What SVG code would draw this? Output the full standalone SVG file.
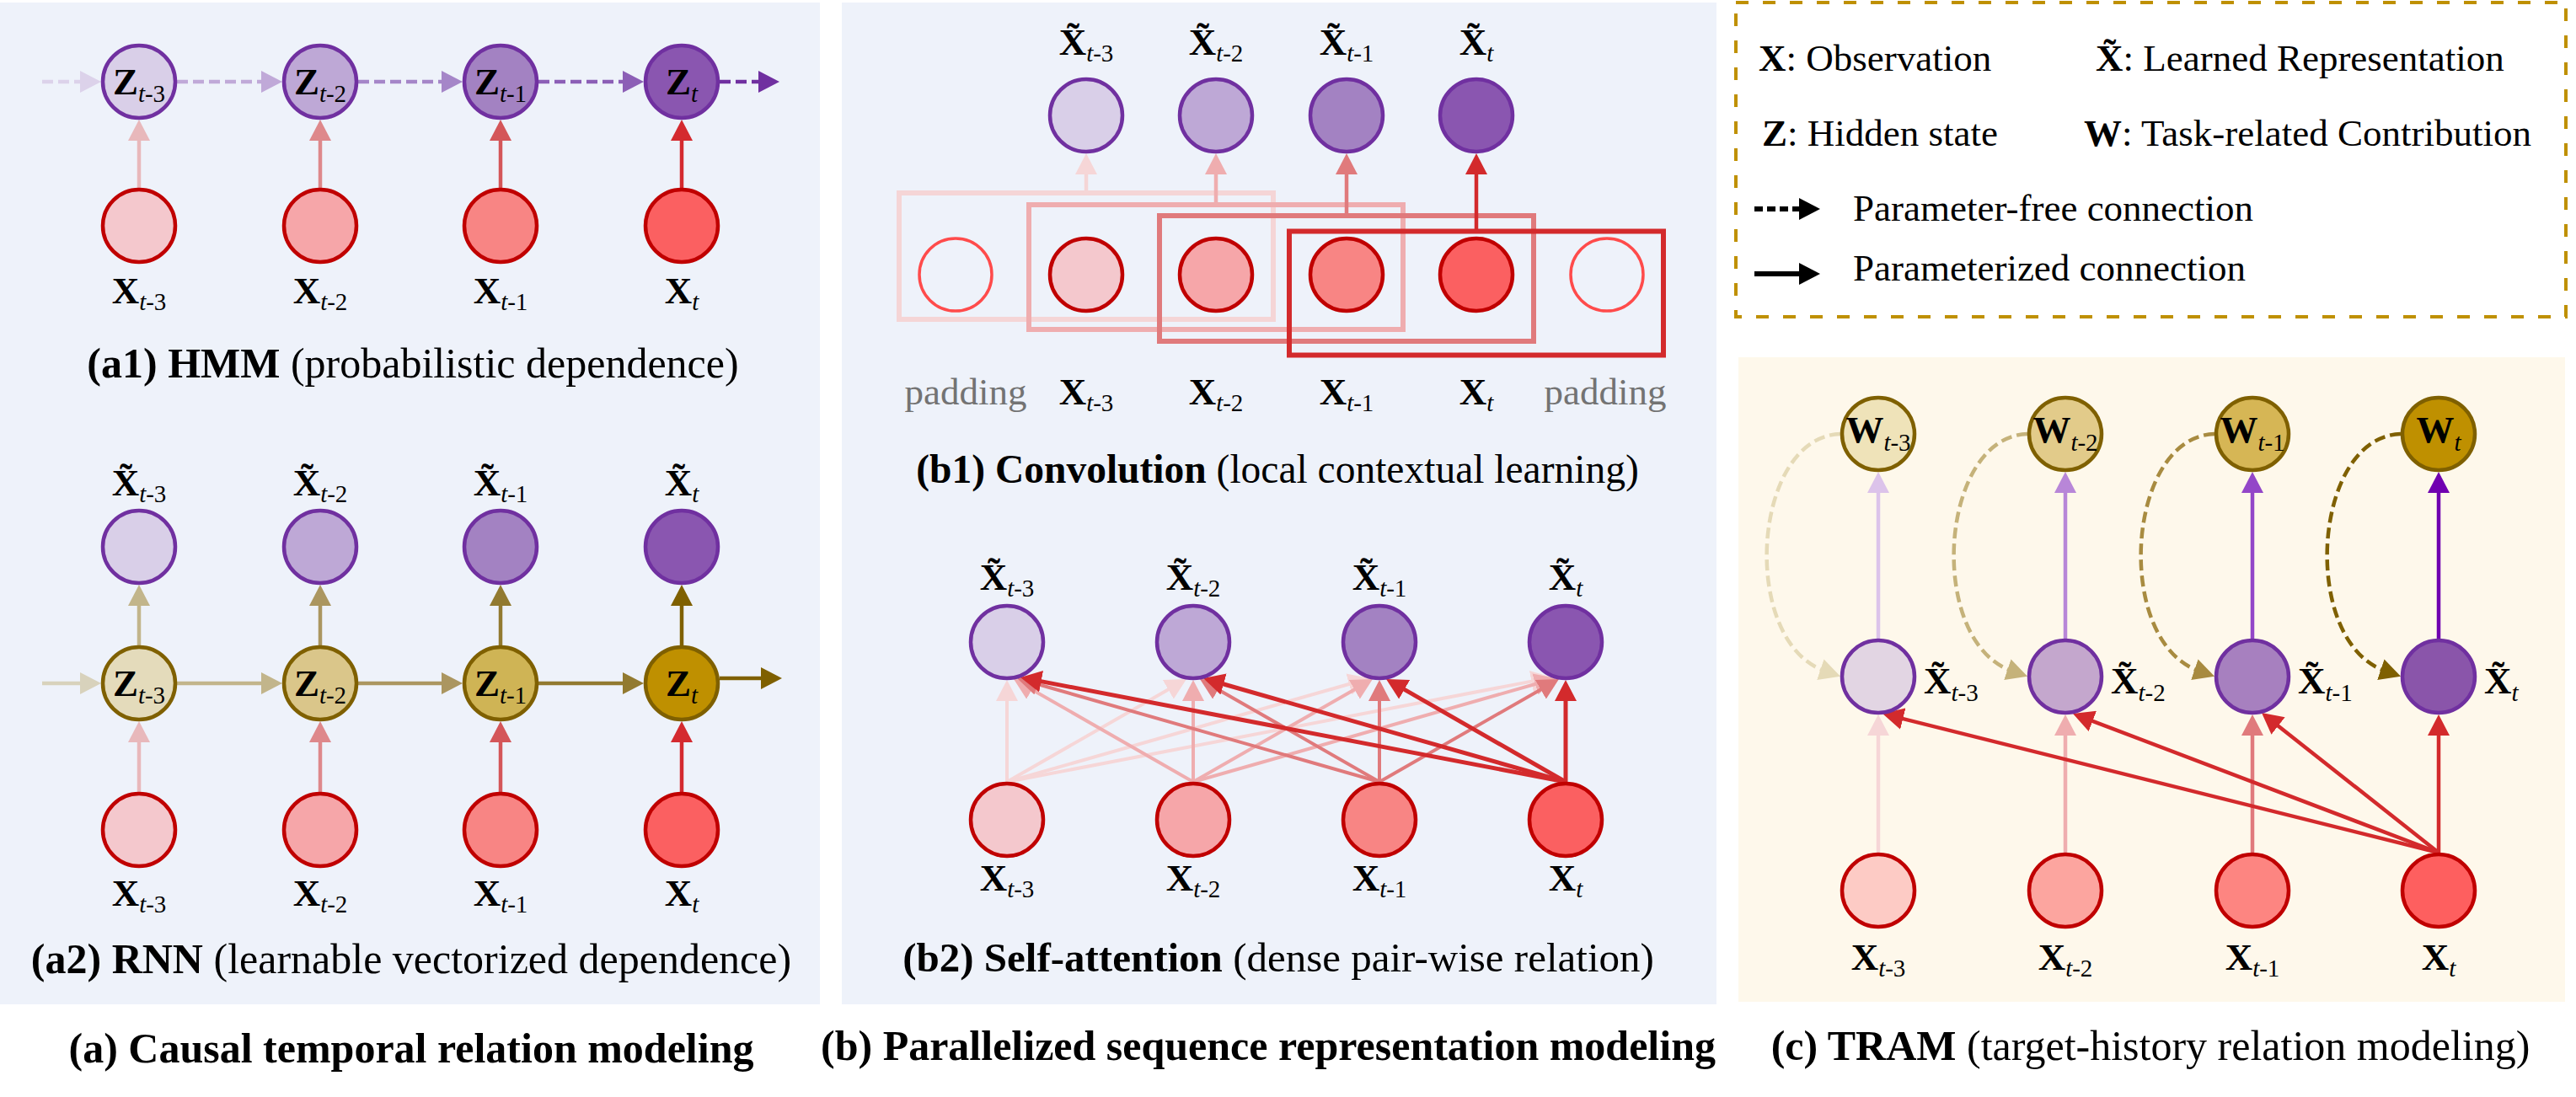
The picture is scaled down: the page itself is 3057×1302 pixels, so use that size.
<svg xmlns="http://www.w3.org/2000/svg" width="3057" height="1302" viewBox="0 0 3057 1302">
<defs>
<style>
text{font-family:"Liberation Serif","Times New Roman",serif;fill:#000}
.lbl{font-size:45px;font-weight:bold}
.sub{font-size:29px;font-weight:normal}
.it{font-style:italic}
.cap{font-size:50px}
.b{font-weight:bold}
.leg{font-size:45px}
.pad{font-size:45px;fill:#737373}
.n{stroke-width:4.5}
.zp{stroke:#7030a0}
.xr{stroke:#c00000}
.zt{stroke:#7f6000}
.c{fill:none;stroke-width:4.5}
.d{stroke-dasharray:13 6}
.box{fill:none;stroke-width:6}
</style>
<marker id="ap0" viewBox="0 0 25 26" refX="7" refY="13" markerWidth="25" markerHeight="26" markerUnits="userSpaceOnUse" orient="auto"><path d="M0,0L25,13L0,26z" fill="#dcd2ea"/></marker>
<marker id="ap1" viewBox="0 0 25 26" refX="7" refY="13" markerWidth="25" markerHeight="26" markerUnits="userSpaceOnUse" orient="auto"><path d="M0,0L25,13L0,26z" fill="#c0a9d8"/></marker>
<marker id="ap2" viewBox="0 0 25 26" refX="7" refY="13" markerWidth="25" markerHeight="26" markerUnits="userSpaceOnUse" orient="auto"><path d="M0,0L25,13L0,26z" fill="#a586c8"/></marker>
<marker id="ap3" viewBox="0 0 25 26" refX="7" refY="13" markerWidth="25" markerHeight="26" markerUnits="userSpaceOnUse" orient="auto"><path d="M0,0L25,13L0,26z" fill="#8c5fb6"/></marker>
<marker id="ap4" viewBox="0 0 25 26" refX="7" refY="13" markerWidth="25" markerHeight="26" markerUnits="userSpaceOnUse" orient="auto"><path d="M0,0L25,13L0,26z" fill="#7030a0"/></marker>
<marker id="ar0" viewBox="0 0 25 26" refX="7" refY="13" markerWidth="25" markerHeight="26" markerUnits="userSpaceOnUse" orient="auto"><path d="M0,0L25,13L0,26z" fill="#e8b8bb"/></marker>
<marker id="ar1" viewBox="0 0 25 26" refX="7" refY="13" markerWidth="25" markerHeight="26" markerUnits="userSpaceOnUse" orient="auto"><path d="M0,0L25,13L0,26z" fill="#de888b"/></marker>
<marker id="ar2" viewBox="0 0 25 26" refX="7" refY="13" markerWidth="25" markerHeight="26" markerUnits="userSpaceOnUse" orient="auto"><path d="M0,0L25,13L0,26z" fill="#d45659"/></marker>
<marker id="ar3" viewBox="0 0 25 26" refX="7" refY="13" markerWidth="25" markerHeight="26" markerUnits="userSpaceOnUse" orient="auto"><path d="M0,0L25,13L0,26z" fill="#d42a2f"/></marker>
<marker id="at0" viewBox="0 0 25 26" refX="7" refY="13" markerWidth="25" markerHeight="26" markerUnits="userSpaceOnUse" orient="auto"><path d="M0,0L25,13L0,26z" fill="#d8d2bc"/></marker>
<marker id="at1" viewBox="0 0 25 26" refX="7" refY="13" markerWidth="25" markerHeight="26" markerUnits="userSpaceOnUse" orient="auto"><path d="M0,0L25,13L0,26z" fill="#c2b58b"/></marker>
<marker id="at2" viewBox="0 0 25 26" refX="7" refY="13" markerWidth="25" markerHeight="26" markerUnits="userSpaceOnUse" orient="auto"><path d="M0,0L25,13L0,26z" fill="#ab9660"/></marker>
<marker id="at3" viewBox="0 0 25 26" refX="7" refY="13" markerWidth="25" markerHeight="26" markerUnits="userSpaceOnUse" orient="auto"><path d="M0,0L25,13L0,26z" fill="#927a30"/></marker>
<marker id="at4" viewBox="0 0 25 26" refX="7" refY="13" markerWidth="25" markerHeight="26" markerUnits="userSpaceOnUse" orient="auto"><path d="M0,0L25,13L0,26z" fill="#7f6000"/></marker>
<marker id="br0" viewBox="0 0 25 26" refX="7" refY="13" markerWidth="25" markerHeight="26" markerUnits="userSpaceOnUse" orient="auto"><path d="M0,0L25,13L0,26z" fill="#f6d6d7"/></marker>
<marker id="br1" viewBox="0 0 25 26" refX="7" refY="13" markerWidth="25" markerHeight="26" markerUnits="userSpaceOnUse" orient="auto"><path d="M0,0L25,13L0,26z" fill="#efadaf"/></marker>
<marker id="br2" viewBox="0 0 25 26" refX="7" refY="13" markerWidth="25" markerHeight="26" markerUnits="userSpaceOnUse" orient="auto"><path d="M0,0L25,13L0,26z" fill="#e07a7c"/></marker>
<marker id="br3" viewBox="0 0 25 26" refX="7" refY="13" markerWidth="25" markerHeight="26" markerUnits="userSpaceOnUse" orient="auto"><path d="M0,0L25,13L0,26z" fill="#d32a2c"/></marker>
<marker id="cp0" viewBox="0 0 25 26" refX="7" refY="13" markerWidth="25" markerHeight="26" markerUnits="userSpaceOnUse" orient="auto"><path d="M0,0L25,13L0,26z" fill="#dcc3ea"/></marker>
<marker id="cp1" viewBox="0 0 25 26" refX="7" refY="13" markerWidth="25" markerHeight="26" markerUnits="userSpaceOnUse" orient="auto"><path d="M0,0L25,13L0,26z" fill="#b886d8"/></marker>
<marker id="cp2" viewBox="0 0 25 26" refX="7" refY="13" markerWidth="25" markerHeight="26" markerUnits="userSpaceOnUse" orient="auto"><path d="M0,0L25,13L0,26z" fill="#9346c8"/></marker>
<marker id="cp3" viewBox="0 0 25 26" refX="7" refY="13" markerWidth="25" markerHeight="26" markerUnits="userSpaceOnUse" orient="auto"><path d="M0,0L25,13L0,26z" fill="#7000b0"/></marker>
<marker id="cg0" viewBox="0 0 25 26" refX="7" refY="13" markerWidth="25" markerHeight="26" markerUnits="userSpaceOnUse" orient="auto"><path d="M0,0L25,13L0,26z" fill="#e5dab7"/></marker>
<marker id="cg1" viewBox="0 0 25 26" refX="7" refY="13" markerWidth="25" markerHeight="26" markerUnits="userSpaceOnUse" orient="auto"><path d="M0,0L25,13L0,26z" fill="#c5b27a"/></marker>
<marker id="cg2" viewBox="0 0 25 26" refX="7" refY="13" markerWidth="25" markerHeight="26" markerUnits="userSpaceOnUse" orient="auto"><path d="M0,0L25,13L0,26z" fill="#a88b40"/></marker>
<marker id="mk" viewBox="0 0 25 26" refX="7" refY="13" markerWidth="25" markerHeight="26" markerUnits="userSpaceOnUse" orient="auto"><path d="M0,0L25,13L0,26z" fill="#000"/></marker>
</defs>

<rect width="3057" height="1302" fill="#ffffff"/>
<g id="backgrounds">
<rect x="0" y="3" width="973" height="1189" fill="#eef2fa"/>
<rect x="999" y="3" width="1038" height="1189" fill="#eef2fa"/>
<rect x="2063" y="424" width="981" height="765" fill="#fef8eb"/>
</g>

<g id="legend">
<rect x="2060" y="3" width="985" height="373" fill="none" stroke="#bf9000" stroke-width="4" stroke-dasharray="15 17"/>
<text x="2087" y="84" class="leg"><tspan class="b">X</tspan>: Observation</text>
<text x="2487" y="84" class="leg"><tspan class="b">X&#x303;</tspan>: Learned Representation</text>
<text x="2091" y="173" class="leg"><tspan class="b">Z</tspan>: Hidden state</text>
<text x="2473" y="173" class="leg"><tspan class="b">W</tspan>: Task-related Contribution</text>
<path d="M2082,248H2142" fill="none" stroke="#000" stroke-width="6" stroke-dasharray="10 5" marker-end="url(#mk)"/>
<text x="2199" y="262" class="leg">Parameter-free connection</text>
<path d="M2082,325H2142" fill="none" stroke="#000" stroke-width="6" marker-end="url(#mk)"/>
<text x="2199" y="333" class="leg">Parameterized connection</text>
</g>

<g id="b1-windows">
<rect class="box" x="1067" y="229" width="444" height="150" stroke="#f5d5d6"/>
<rect class="box" x="1221" y="243" width="444" height="148" stroke="#efadaf"/>
<rect class="box" x="1376" y="256" width="444" height="149" stroke="#e07a7c"/>
<rect class="box" x="1530" y="274.5" width="444" height="147" stroke="#d32a2c" stroke-width="7"/>
</g>

<g id="connectors">
<!-- a1 -->
<path class="c d" d="M50,97H102" stroke="#dcd2ea" marker-end="url(#ap0)"/>
<path class="c d" d="M210,97H317" stroke="#c0a9d8" marker-end="url(#ap1)"/>
<path class="c d" d="M425,97H531" stroke="#a586c8" marker-end="url(#ap2)"/>
<path class="c d" d="M639,97H746" stroke="#8c5fb6" marker-end="url(#ap3)"/>
<path class="c d" d="M854,97H907" stroke="#7030a0" marker-end="url(#ap4)"/>
<path class="c" stroke-width="4" d="M165,223V160" stroke="#e8b8bb" marker-end="url(#ar0)"/>
<path class="c" stroke-width="4" d="M380,223V160" stroke="#de888b" marker-end="url(#ar1)"/>
<path class="c" stroke-width="4" d="M594,223V160" stroke="#d45659" marker-end="url(#ar2)"/>
<path class="c" stroke-width="4" d="M809,223V160" stroke="#d42a2f" marker-end="url(#ar3)"/>
<!-- a2 -->
<path class="c" stroke-width="5" d="M50,811H102" stroke="#d8d2bc" marker-end="url(#at0)"/>
<path class="c" stroke-width="5" d="M210,811H317" stroke="#c2b58b" marker-end="url(#at1)"/>
<path class="c" stroke-width="5" d="M425,811H531" stroke="#ab9660" marker-end="url(#at2)"/>
<path class="c" stroke-width="5" d="M639,811H746" stroke="#927a30" marker-end="url(#at3)"/>
<path class="c" stroke-width="5" d="M854,805H910" stroke="#7f6000" marker-end="url(#at4)"/>
<path class="c" stroke-width="4" d="M165,766V712" stroke="#c2b58b" marker-end="url(#at1)"/>
<path class="c" stroke-width="4" d="M380,766V712" stroke="#ab9660" marker-end="url(#at2)"/>
<path class="c" stroke-width="4" d="M594,766V712" stroke="#927a30" marker-end="url(#at3)"/>
<path class="c" stroke-width="4" d="M809,766V712" stroke="#7f6000" marker-end="url(#at4)"/>
<path class="c" stroke-width="4" d="M165,940V874" stroke="#e8b8bb" marker-end="url(#ar0)"/>
<path class="c" stroke-width="4" d="M380,940V874" stroke="#de888b" marker-end="url(#ar1)"/>
<path class="c" stroke-width="4" d="M594,940V874" stroke="#d45659" marker-end="url(#ar2)"/>
<path class="c" stroke-width="4" d="M809,940V874" stroke="#d42a2f" marker-end="url(#ar3)"/>
<!-- b1 -->
<path class="c" stroke-width="5" d="M1289,229V200" stroke="#f5d5d6" marker-end="url(#br0)"/>
<path class="c" stroke-width="5" d="M1443,243V200" stroke="#efadaf" marker-end="url(#br1)"/>
<path class="c" stroke-width="5" d="M1598,256V200" stroke="#e07a7c" marker-end="url(#br2)"/>
<path class="c" stroke-width="6" d="M1752,274V200" stroke="#d32a2c" marker-end="url(#br3)"/>
<!-- b2 -->
<g stroke="#f6d6d7" stroke-width="4" fill="none">
<path d="M1195,928V825" marker-end="url(#br0)"/>
<path d="M1195,928L1392.4,814.9" marker-end="url(#br0)"/>
<path d="M1195,928L1607.7,810" marker-end="url(#br0)"/>
<path d="M1195,928L1824.3,807.4" marker-end="url(#br0)"/>
</g>
<g stroke="#efadaf" stroke-width="4" fill="none">
<path d="M1416,928L1218.6,814.9" marker-end="url(#br1)"/>
<path d="M1416,928V825" marker-end="url(#br1)"/>
<path d="M1416,928L1613.4,814.9" marker-end="url(#br1)"/>
<path d="M1416,928L1828.7,810" marker-end="url(#br1)"/>
</g>
<g stroke="#e07a7c" stroke-width="4" fill="none">
<path d="M1637,928L1224.3,810" marker-end="url(#br2)"/>
<path d="M1637,928L1439.6,814.9" marker-end="url(#br2)"/>
<path d="M1637,928V825" marker-end="url(#br2)"/>
<path d="M1637,928L1834.4,814.9" marker-end="url(#br2)"/>
</g>
<g stroke="#d32a2c" stroke-width="5" fill="none">
<path d="M1858,928L1228.7,807.4" marker-end="url(#br3)"/>
<path d="M1858,928L1445.3,810" marker-end="url(#br3)"/>
<path d="M1858,928L1660.6,814.9" marker-end="url(#br3)"/>
<path d="M1858,928V825" marker-end="url(#br3)"/>
</g>
<!-- c -->
<path class="c d" stroke-dasharray="12 7" d="M2184,515C2079,518 2063,762 2167,797" stroke="#e5dab7" marker-end="url(#cg0)"/>
<path class="c d" stroke-dasharray="12 7" d="M2406,515C2301,518 2285,762 2389,797" stroke="#c5b27a" marker-end="url(#cg1)"/>
<path class="c d" stroke-dasharray="12 7" d="M2628,515C2523,518 2507,762 2611,797" stroke="#a88b40" marker-end="url(#cg2)"/>
<path class="c d" stroke-dasharray="12 7" d="M2849,515C2744,518 2728,762 2832,797" stroke="#7f6000" marker-end="url(#at4)"/>
<path class="c" stroke-width="4" d="M2229,758V578" stroke="#dcc3ea" marker-end="url(#cp0)"/>
<path class="c" stroke-width="4" d="M2451,758V578" stroke="#b886d8" marker-end="url(#cp1)"/>
<path class="c" stroke-width="4" d="M2673,758V578" stroke="#9346c8" marker-end="url(#cp2)"/>
<path class="c" stroke-width="4" d="M2894,758V578" stroke="#7000b0" marker-end="url(#cp3)"/>
<path class="c" stroke-width="4" d="M2229,1012V866" stroke="#f6d6d7" marker-end="url(#br0)"/>
<path class="c" stroke-width="4" d="M2451,1012V866" stroke="#efadaf" marker-end="url(#br1)"/>
<path class="c" stroke-width="4" d="M2673,1012V866" stroke="#e07a7c" marker-end="url(#br2)"/>
<path class="c" stroke-width="4.5" d="M2894,1012V866" stroke="#d32a2c" marker-end="url(#br3)"/>
<path class="c" stroke-width="4.5" d="M2894,1012L2251.5,851.4" stroke="#d32a2c" marker-end="url(#br3)"/>
<path class="c" stroke-width="4.5" d="M2894,1012L2476.8,853.4" stroke="#d32a2c" marker-end="url(#br3)"/>
<path class="c" stroke-width="4.5" d="M2894,1012L2698.1,857.2" stroke="#d32a2c" marker-end="url(#br3)"/>
</g>

<!-- Panel a1 nodes -->
<g id="a1-z0"><circle class="n zp" cx="165" cy="97" r="43" fill="#d9cfe8"/><text x="165" y="112" class="lbl" text-anchor="middle">Z<tspan class="sub" dy="9"><tspan class="it">t</tspan>-3</tspan></text></g>
<g id="a1-z1"><circle class="n zp" cx="380" cy="97" r="43" fill="#bea8d6"/><text x="380" y="112" class="lbl" text-anchor="middle">Z<tspan class="sub" dy="9"><tspan class="it">t</tspan>-2</tspan></text></g>
<g id="a1-z2"><circle class="n zp" cx="594" cy="97" r="43" fill="#a382c2"/><text x="594" y="112" class="lbl" text-anchor="middle">Z<tspan class="sub" dy="9"><tspan class="it">t</tspan>-1</tspan></text></g>
<g id="a1-z3"><circle class="n zp" cx="809" cy="97" r="43" fill="#8a56b0"/><text x="809" y="112" class="lbl" text-anchor="middle">Z<tspan class="sub it" dy="9">t</tspan></text></g>
<g id="a1-x0"><circle class="n xr" cx="165" cy="268" r="43" fill="#f4c8cd"/><text x="165" y="360" class="lbl" text-anchor="middle">X<tspan class="sub" dy="8"><tspan class="it">t</tspan>-3</tspan></text></g>
<g id="a1-x1"><circle class="n xr" cx="380" cy="268" r="43" fill="#f6a6a9"/><text x="380" y="360" class="lbl" text-anchor="middle">X<tspan class="sub" dy="8"><tspan class="it">t</tspan>-2</tspan></text></g>
<g id="a1-x2"><circle class="n xr" cx="594" cy="268" r="43" fill="#f88584"/><text x="594" y="360" class="lbl" text-anchor="middle">X<tspan class="sub" dy="8"><tspan class="it">t</tspan>-1</tspan></text></g>
<g id="a1-x3"><circle class="n xr" cx="809" cy="268" r="43" fill="#fb6061"/><text x="809" y="360" class="lbl" text-anchor="middle">X<tspan class="sub it" dy="8">t</tspan></text></g>
<text x="490" y="448" class="cap" text-anchor="middle"><tspan class="b">(a1) HMM</tspan> (probabilistic dependence)</text>

<!-- Panel a2 nodes -->
<g id="a2-r0"><circle class="n zp" cx="165" cy="649" r="43" fill="#d9cfe8"/><text x="165" y="588" class="lbl" text-anchor="middle">X&#x303;<tspan class="sub" dy="8"><tspan class="it">t</tspan>-3</tspan></text></g>
<g id="a2-r1"><circle class="n zp" cx="380" cy="649" r="43" fill="#bea8d6"/><text x="380" y="588" class="lbl" text-anchor="middle">X&#x303;<tspan class="sub" dy="8"><tspan class="it">t</tspan>-2</tspan></text></g>
<g id="a2-r2"><circle class="n zp" cx="594" cy="649" r="43" fill="#a382c2"/><text x="594" y="588" class="lbl" text-anchor="middle">X&#x303;<tspan class="sub" dy="8"><tspan class="it">t</tspan>-1</tspan></text></g>
<g id="a2-r3"><circle class="n zp" cx="809" cy="649" r="43" fill="#8a56b0"/><text x="809" y="588" class="lbl" text-anchor="middle">X&#x303;<tspan class="sub it" dy="8">t</tspan></text></g>
<g id="a2-z0"><circle class="n zt" cx="165" cy="811" r="43" fill="#e4dbbb"/><text x="165" y="826" class="lbl" text-anchor="middle">Z<tspan class="sub" dy="9"><tspan class="it">t</tspan>-3</tspan></text></g>
<g id="a2-z1"><circle class="n zt" cx="380" cy="811" r="43" fill="#dac68a"/><text x="380" y="826" class="lbl" text-anchor="middle">Z<tspan class="sub" dy="9"><tspan class="it">t</tspan>-2</tspan></text></g>
<g id="a2-z2"><circle class="n zt" cx="594" cy="811" r="43" fill="#cfb455"/><text x="594" y="826" class="lbl" text-anchor="middle">Z<tspan class="sub" dy="9"><tspan class="it">t</tspan>-1</tspan></text></g>
<g id="a2-z3"><circle class="n zt" cx="809" cy="811" r="43" fill="#bf9000"/><text x="809" y="826" class="lbl" text-anchor="middle">Z<tspan class="sub it" dy="9">t</tspan></text></g>
<g id="a2-x0"><circle class="n xr" cx="165" cy="985" r="43" fill="#f4c8cd"/><text x="165" y="1075" class="lbl" text-anchor="middle">X<tspan class="sub" dy="8"><tspan class="it">t</tspan>-3</tspan></text></g>
<g id="a2-x1"><circle class="n xr" cx="380" cy="985" r="43" fill="#f6a6a9"/><text x="380" y="1075" class="lbl" text-anchor="middle">X<tspan class="sub" dy="8"><tspan class="it">t</tspan>-2</tspan></text></g>
<g id="a2-x2"><circle class="n xr" cx="594" cy="985" r="43" fill="#f88584"/><text x="594" y="1075" class="lbl" text-anchor="middle">X<tspan class="sub" dy="8"><tspan class="it">t</tspan>-1</tspan></text></g>
<g id="a2-x3"><circle class="n xr" cx="809" cy="985" r="43" fill="#fb6061"/><text x="809" y="1075" class="lbl" text-anchor="middle">X<tspan class="sub it" dy="8">t</tspan></text></g>
<text x="488" y="1155" class="cap" text-anchor="middle"><tspan class="b">(a2) RNN</tspan> (learnable vectorized dependence)</text>
<text x="488" y="1261" class="cap b" text-anchor="middle">(a) Causal temporal relation modeling</text>

<!-- Panel b1 nodes -->
<g id="b1-r0"><circle class="n zp" cx="1289" cy="137" r="43" fill="#d9cfe8"/><text x="1289" y="65" class="lbl" text-anchor="middle">X&#x303;<tspan class="sub" dy="8"><tspan class="it">t</tspan>-3</tspan></text></g>
<g id="b1-r1"><circle class="n zp" cx="1443" cy="137" r="43" fill="#bea8d6"/><text x="1443" y="65" class="lbl" text-anchor="middle">X&#x303;<tspan class="sub" dy="8"><tspan class="it">t</tspan>-2</tspan></text></g>
<g id="b1-r2"><circle class="n zp" cx="1598" cy="137" r="43" fill="#a382c2"/><text x="1598" y="65" class="lbl" text-anchor="middle">X&#x303;<tspan class="sub" dy="8"><tspan class="it">t</tspan>-1</tspan></text></g>
<g id="b1-r3"><circle class="n zp" cx="1752" cy="137" r="43" fill="#8a56b0"/><text x="1752" y="65" class="lbl" text-anchor="middle">X&#x303;<tspan class="sub it" dy="8">t</tspan></text></g>
<g id="b1-pad0"><circle cx="1134" cy="326" r="43" fill="none" stroke="#ff4b4b" stroke-width="3.5"/><text x="1146" y="480" class="pad" text-anchor="middle">padding</text></g>
<g id="b1-x0"><circle class="n xr" cx="1289" cy="326" r="43" fill="#f4c8cd"/><text x="1289" y="480" class="lbl" text-anchor="middle">X<tspan class="sub" dy="8"><tspan class="it">t</tspan>-3</tspan></text></g>
<g id="b1-x1"><circle class="n xr" cx="1443" cy="326" r="43" fill="#f6a6a9"/><text x="1443" y="480" class="lbl" text-anchor="middle">X<tspan class="sub" dy="8"><tspan class="it">t</tspan>-2</tspan></text></g>
<g id="b1-x2"><circle class="n xr" cx="1598" cy="326" r="43" fill="#f88584"/><text x="1598" y="480" class="lbl" text-anchor="middle">X<tspan class="sub" dy="8"><tspan class="it">t</tspan>-1</tspan></text></g>
<g id="b1-x3"><circle class="n xr" cx="1752" cy="326" r="43" fill="#fb6061"/><text x="1752" y="480" class="lbl" text-anchor="middle">X<tspan class="sub it" dy="8">t</tspan></text></g>
<g id="b1-pad1"><circle cx="1907" cy="326" r="43" fill="none" stroke="#ff4b4b" stroke-width="3.5"/><text x="1905" y="480" class="pad" text-anchor="middle">padding</text></g>
<text x="1516" y="573" class="cap" font-size="47.5" style="font-size:47.5px" text-anchor="middle"><tspan class="b">(b1) Convolution</tspan> (local contextual learning)</text>

<!-- Panel b2 nodes -->
<g id="b2-r0"><circle class="n zp" cx="1195" cy="762" r="43" fill="#d9cfe8"/><text x="1195" y="700" class="lbl" text-anchor="middle">X&#x303;<tspan class="sub" dy="8"><tspan class="it">t</tspan>-3</tspan></text></g>
<g id="b2-r1"><circle class="n zp" cx="1416" cy="762" r="43" fill="#bea8d6"/><text x="1416" y="700" class="lbl" text-anchor="middle">X&#x303;<tspan class="sub" dy="8"><tspan class="it">t</tspan>-2</tspan></text></g>
<g id="b2-r2"><circle class="n zp" cx="1637" cy="762" r="43" fill="#a382c2"/><text x="1637" y="700" class="lbl" text-anchor="middle">X&#x303;<tspan class="sub" dy="8"><tspan class="it">t</tspan>-1</tspan></text></g>
<g id="b2-r3"><circle class="n zp" cx="1858" cy="762" r="43" fill="#8a56b0"/><text x="1858" y="700" class="lbl" text-anchor="middle">X&#x303;<tspan class="sub it" dy="8">t</tspan></text></g>
<g id="b2-x0"><circle class="n xr" cx="1195" cy="973" r="43" fill="#f4c8cd"/><text x="1195" y="1057" class="lbl" text-anchor="middle">X<tspan class="sub" dy="8"><tspan class="it">t</tspan>-3</tspan></text></g>
<g id="b2-x1"><circle class="n xr" cx="1416" cy="973" r="43" fill="#f6a6a9"/><text x="1416" y="1057" class="lbl" text-anchor="middle">X<tspan class="sub" dy="8"><tspan class="it">t</tspan>-2</tspan></text></g>
<g id="b2-x2"><circle class="n xr" cx="1637" cy="973" r="43" fill="#f88584"/><text x="1637" y="1057" class="lbl" text-anchor="middle">X<tspan class="sub" dy="8"><tspan class="it">t</tspan>-1</tspan></text></g>
<g id="b2-x3"><circle class="n xr" cx="1858" cy="973" r="43" fill="#fb6061"/><text x="1858" y="1057" class="lbl" text-anchor="middle">X<tspan class="sub it" dy="8">t</tspan></text></g>
<text x="1517" y="1153" class="cap" style="font-size:49px" text-anchor="middle"><tspan class="b">(b2) Self-attention</tspan> (dense pair-wise relation)</text>
<text x="1505" y="1258" class="cap b" text-anchor="middle">(b) Parallelized sequence representation modeling</text>

<!-- Panel c nodes -->
<g id="c-w0"><circle class="n zt" cx="2229" cy="515" r="43" fill="#efe3b9"/><text x="2229" y="525" class="lbl" text-anchor="middle">W<tspan class="sub" dy="10"><tspan class="it">t</tspan>-3</tspan></text></g>
<g id="c-w1"><circle class="n zt" cx="2451" cy="515" r="43" fill="#e2cb8a"/><text x="2451" y="525" class="lbl" text-anchor="middle">W<tspan class="sub" dy="10"><tspan class="it">t</tspan>-2</tspan></text></g>
<g id="c-w2"><circle class="n zt" cx="2673" cy="515" r="43" fill="#d6b655"/><text x="2673" y="525" class="lbl" text-anchor="middle">W<tspan class="sub" dy="10"><tspan class="it">t</tspan>-1</tspan></text></g>
<g id="c-w3"><circle class="n zt" cx="2894" cy="515" r="43" fill="#bf9000"/><text x="2894" y="525" class="lbl" text-anchor="middle">W<tspan class="sub it" dy="10">t</tspan></text></g>
<g id="c-r0"><circle class="n zp" cx="2229" cy="803" r="43" fill="#e2d5e3"/><text x="2283" y="823" class="lbl">X&#x303;<tspan class="sub" dy="9"><tspan class="it">t</tspan>-3</tspan></text></g>
<g id="c-r1"><circle class="n zp" cx="2451" cy="803" r="43" fill="#c4a7cd"/><text x="2505" y="823" class="lbl">X&#x303;<tspan class="sub" dy="9"><tspan class="it">t</tspan>-2</tspan></text></g>
<g id="c-r2"><circle class="n zp" cx="2673" cy="803" r="43" fill="#a780bf"/><text x="2727" y="823" class="lbl">X&#x303;<tspan class="sub" dy="9"><tspan class="it">t</tspan>-1</tspan></text></g>
<g id="c-r3"><circle class="n zp" cx="2894" cy="803" r="43" fill="#8a55aa"/><text x="2948" y="823" class="lbl">X&#x303;<tspan class="sub it" dy="9">t</tspan></text></g>
<g id="c-x0"><circle class="n xr" cx="2229" cy="1057" r="43" fill="#fdcbc5"/><text x="2229" y="1151" class="lbl" text-anchor="middle">X<tspan class="sub" dy="8"><tspan class="it">t</tspan>-3</tspan></text></g>
<g id="c-x1"><circle class="n xr" cx="2451" cy="1057" r="43" fill="#fca59f"/><text x="2451" y="1151" class="lbl" text-anchor="middle">X<tspan class="sub" dy="8"><tspan class="it">t</tspan>-2</tspan></text></g>
<g id="c-x2"><circle class="n xr" cx="2673" cy="1057" r="43" fill="#fd8581"/><text x="2673" y="1151" class="lbl" text-anchor="middle">X<tspan class="sub" dy="8"><tspan class="it">t</tspan>-1</tspan></text></g>
<g id="c-x3"><circle class="n xr" cx="2894" cy="1057" r="43" fill="#fe5f5f"/><text x="2894" y="1151" class="lbl" text-anchor="middle">X<tspan class="sub it" dy="8">t</tspan></text></g>
<text x="2552" y="1258" class="cap" text-anchor="middle"><tspan class="b">(c) TRAM</tspan> (target-history relation modeling)</text>
</svg>
